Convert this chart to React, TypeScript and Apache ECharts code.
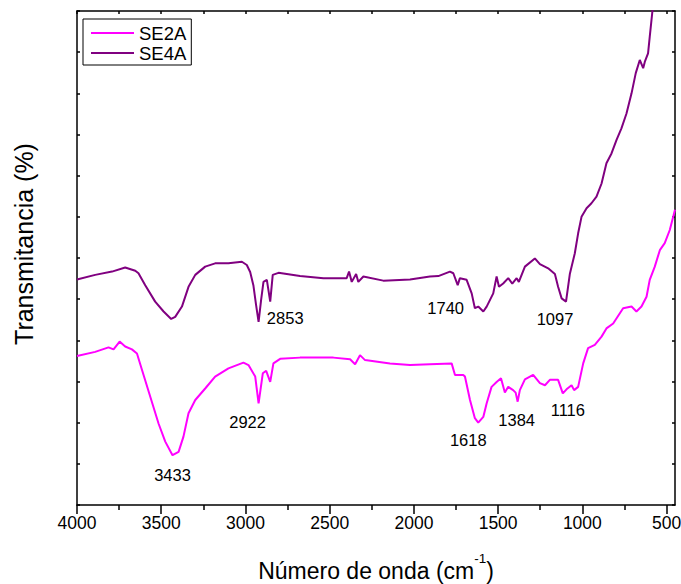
import React, { useEffect, useRef } from "react";
import * as echarts from "echarts";

const FONT = '"Liberation Sans", Arial, Helvetica, sans-serif';

// FTIR spectra: [wavenumber (cm-1), transmittance (arb. %)]
const se2a: [number, number][] = [
  [4000, 36.2], [3892, 37.2], [3813, 38.3], [3783, 37.8], [3747, 39.7], [3714, 38.5],
  [3674, 37.8], [3644, 36.8], [3614, 32.8], [3565, 26.3], [3516, 19.8], [3476, 15.4],
  [3433, 12.1], [3397, 12.9], [3368, 16.6], [3338, 22.3], [3298, 25.5], [3239, 28.3],
  [3180, 31.2], [3101, 33.2], [3012, 34.6], [2982, 34.0], [2942, 31.2], [2922, 24.7],
  [2897, 32.0], [2877, 32.6], [2853, 29.9], [2834, 34.4], [2794, 35.5], [2676, 35.8],
  [2478, 35.8], [2379, 35.4], [2349, 34.2], [2320, 36.4], [2290, 35.2], [2142, 34.4],
  [2023, 34.0], [1905, 34.2], [1776, 34.4], [1756, 31.6], [1707, 31.6], [1697, 31.2],
  [1667, 25.5], [1638, 21.1], [1618, 20.0], [1588, 21.4], [1568, 24.7], [1539, 28.7],
  [1509, 29.9], [1483, 30.8], [1460, 27.3], [1440, 28.7], [1411, 27.9], [1396, 27.3],
  [1384, 25.1], [1371, 27.9], [1341, 30.5], [1292, 31.6], [1252, 29.6], [1222, 29.1],
  [1193, 30.4], [1144, 30.4], [1116, 27.1], [1094, 28.1], [1064, 29.1], [1049, 27.9],
  [1025, 28.7], [995, 34.4], [966, 38.1], [926, 38.9], [886, 40.9], [857, 42.9],
  [817, 44.1], [758, 47.8], [708, 48.2], [679, 47.0], [649, 48.2], [619, 50.6],
  [600, 54.7], [570, 57.9], [540, 61.9], [511, 63.6], [481, 66.8], [450, 71.7],
];

const se4a: [number, number][] = [
  [4000, 54.8], [3892, 55.9], [3792, 56.7], [3714, 57.7], [3654, 56.9], [3635, 56.3],
  [3595, 53.4], [3536, 49.4], [3486, 47.0], [3441, 45.2], [3417, 45.7], [3377, 48.2],
  [3338, 53.0], [3298, 55.9], [3239, 57.9], [3180, 58.7], [3101, 58.7], [3021, 59.1],
  [2992, 58.3], [2972, 56.6], [2953, 53.4], [2937, 48.6], [2922, 44.5], [2907, 49.8],
  [2893, 54.2], [2873, 54.7], [2853, 49.4], [2838, 55.9], [2804, 56.4], [2676, 55.6],
  [2537, 55.1], [2399, 55.1], [2385, 56.7], [2369, 54.2], [2343, 56.1], [2330, 54.2],
  [2300, 55.5], [2182, 54.5], [2023, 54.8], [1905, 55.5], [1855, 55.6], [1786, 56.7],
  [1766, 56.3], [1740, 53.4], [1727, 55.1], [1687, 54.7], [1657, 51.4], [1638, 47.8],
  [1618, 48.2], [1588, 47.0], [1568, 48.2], [1529, 51.4], [1509, 55.5], [1495, 53.0],
  [1470, 53.8], [1440, 55.1], [1416, 53.8], [1390, 55.1], [1377, 54.2], [1341, 57.9],
  [1282, 59.9], [1252, 58.5], [1203, 57.5], [1163, 56.1], [1144, 53.0], [1123, 50.2],
  [1097, 49.4], [1074, 56.2], [1045, 61.1], [1025, 66.0], [1005, 70.0], [975, 72.1],
  [946, 73.3], [916, 74.9], [886, 78.1], [857, 83.0], [827, 85.4], [797, 88.7],
  [768, 91.5], [738, 95.1], [708, 100.0], [683, 104.9], [659, 108.1], [639, 106.1],
  [629, 107.7], [610, 109.7], [600, 113.7], [584, 120.0], [570, 127.5],
];

// Axis ticks
const majorTicks = [500, 1000, 1500, 2000, 2500, 3000, 3500, 4000];
const minorTicks = [750, 1250, 1750, 2250, 2750, 3250, 3750];
const allTicks = [...majorTicks, ...minorTicks].sort((a, b) => a - b);

// Labelled absorption bands
const se2aBands = [3433, 2922, 1618, 1384, 1116];
const se4aBands = [2853, 1740, 1097];

// Label placement relative to the band position (px)
const bandLabelOffset: Record<number, [number, number]> = {
  3433: [0, 20],
  2922: [-11, 19],
  1618: [-10, 17],
  1384: [-1, 18],
  1116: [5, 17],
  2853: [15, 16],
  1740: [-12, 23],
  1097: [-11, 17],
};

function valueAt(data: [number, number][], wn: number): number {
  for (let i = 0; i < data.length - 1; i++) {
    const [x0, y0] = data[i];
    const [x1, y1] = data[i + 1];
    if ((wn <= x0 && wn >= x1) || (wn >= x0 && wn <= x1)) {
      if (x0 === x1) return y0;
      return y0 + ((wn - x0) / (x1 - x0)) * (y1 - y0);
    }
  }
  return data[data.length - 1][1];
}

function bandMarks(data: [number, number][], bands: number[]) {
  return bands.map((wn) => ({
    name: String(wn),
    coord: [wn, valueAt(data, wn)],
    label: { offset: bandLabelOffset[wn] },
  }));
}

const markPointBase = {
  symbol: "circle",
  symbolSize: 1,
  silent: true,
  itemStyle: { color: "rgba(0,0,0,0)" },
  label: {
    show: true,
    position: "inside",
    formatter: "{b}",
    color: "#000",
    fontSize: 16.5,
    fontFamily: FONT,
    textBorderWidth: 0,
  },
};

const axisLineStyle = { color: "#000", width: 1.5 };

export default function App() {
  const ref = useRef<HTMLDivElement>(null);

  useEffect(() => {
    if (!ref.current) return;
    const chart = echarts.init(ref.current, undefined, { renderer: "svg" });
    chart.setOption({
      animation: false,
      backgroundColor: "#fff",
      grid: { left: 77, right: 6, top: 11, bottom: 79, containLabel: false, outerBoundsMode: "none" },
      legend: {
        orient: "vertical",
        left: 83,
        top: 19,
        padding: [4, 5, 2, 8],
        itemGap: 0,
        itemWidth: 43,
        itemHeight: 2,
        borderColor: "#000",
        borderWidth: 1,
        borderRadius: 0,
        backgroundColor: "#fff",
        textStyle: { fontSize: 18.5, fontFamily: FONT, color: "#000", lineHeight: 20 },
        data: [
          { name: "SE2A", icon: "rect" },
          { name: "SE4A", icon: "rect" },
        ],
      },
      xAxis: [
        {
          type: "value",
          position: "bottom",
          min: 450,
          max: 4000,
          inverse: true,
          axisLine: { show: true, lineStyle: axisLineStyle },
          axisTick: { show: true, inside: false, length: 9, customValues: majorTicks, lineStyle: axisLineStyle },
          axisLabel: {
            show: true,
            customValues: majorTicks,
            margin: 9,
            fontSize: 17.5,
            color: "#000",
            fontFamily: FONT,
            formatter: (v: number) => String(v),
          },
          splitLine: { show: false },
          name: "{m|Número de onda (cm}{sup|-1}{m|)}",
          nameLocation: "middle",
          nameGap: 53,
          nameTextStyle: {
            color: "#000",
            fontFamily: FONT,
            rich: {
              m: { fontSize: 23, lineHeight: 25, fontFamily: FONT, color: "#000" },
              sup: { fontSize: 13.5, lineHeight: 14, fontFamily: FONT, color: "#000", padding: [0, 0, 25, 0] },
            },
          },
        },
        {
          type: "value",
          position: "bottom",
          min: 450,
          max: 4000,
          inverse: true,
          axisLine: { show: false },
          axisTick: { show: true, inside: false, length: 5, customValues: minorTicks, lineStyle: axisLineStyle },
          axisLabel: { show: false },
          splitLine: { show: false },
        },
        {
          type: "value",
          position: "top",
          min: 450,
          max: 4000,
          inverse: true,
          axisLine: { show: true, lineStyle: axisLineStyle },
          axisTick: { show: true, inside: true, length: 3, customValues: allTicks, lineStyle: axisLineStyle },
          axisLabel: { show: false },
          splitLine: { show: false },
        },
      ],
      yAxis: [
        {
          type: "value",
          position: "left",
          min: 0,
          max: 120,
          interval: 10,
          axisLine: { show: true, lineStyle: axisLineStyle },
          axisTick: { show: true, inside: true, length: 3, lineStyle: axisLineStyle },
          axisLabel: { show: false },
          splitLine: { show: false },
          name: "Transmitancia (%)",
          nameLocation: "middle",
          nameGap: 41,
          nameTextStyle: { fontSize: 25, fontFamily: FONT, color: "#000", padding: [0, 0, 0, 28] },
        },
        {
          type: "value",
          position: "right",
          min: 0,
          max: 120,
          interval: 10,
          axisLine: { show: true, lineStyle: axisLineStyle },
          axisTick: { show: true, inside: true, length: 3, lineStyle: axisLineStyle },
          axisLabel: { show: false },
          splitLine: { show: false },
        },
      ],
      series: [
        {
          name: "SE2A",
          type: "line",
          xAxisIndex: 0,
          yAxisIndex: 0,
          data: se2a,
          symbol: "none",
          showSymbol: false,
          clip: true,
          color: "#ff00ff",
          lineStyle: { color: "#ff00ff", width: 2 },
          markPoint: { ...markPointBase, data: bandMarks(se2a, se2aBands) },
        },
        {
          name: "SE4A",
          type: "line",
          xAxisIndex: 0,
          yAxisIndex: 0,
          data: se4a,
          symbol: "none",
          showSymbol: false,
          clip: true,
          color: "#800080",
          lineStyle: { color: "#800080", width: 2 },
          markPoint: { ...markPointBase, data: bandMarks(se4a, se4aBands) },
        },
      ],
    });
    return () => chart.dispose();
  }, []);

  return (
    <div
      ref={ref}
      style={{ position: "absolute", left: 0, top: 0, width: 681, height: 584, background: "#fff" }}
    />
  );
}
